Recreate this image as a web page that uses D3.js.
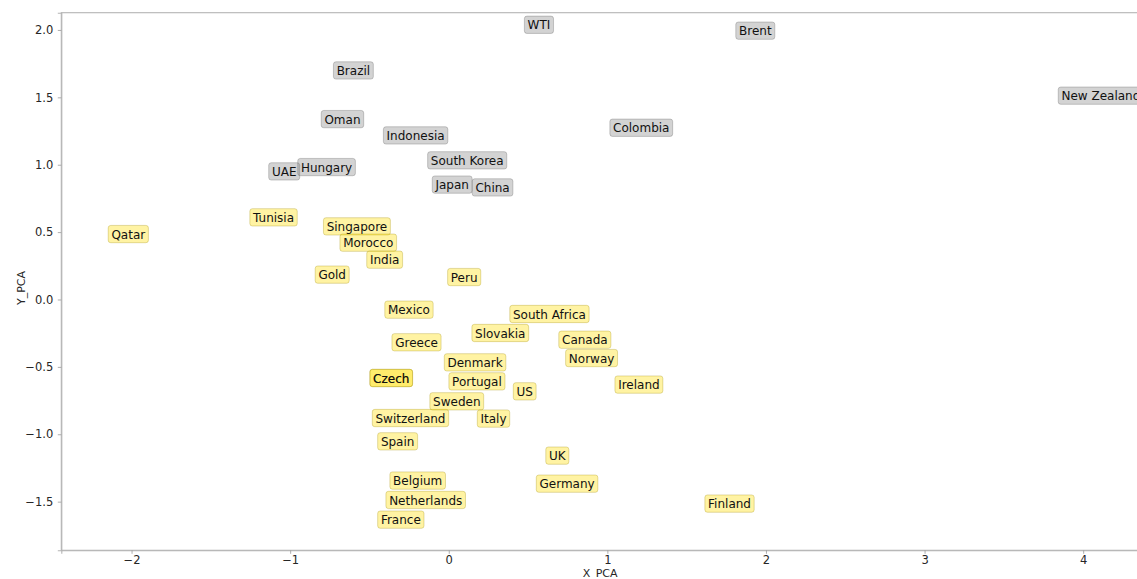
<!DOCTYPE html>
<html>
<head>
<meta charset="utf-8">
<script src="https://cdn.jsdelivr.net/npm/d3@7"></script>
<style>
  html, body { margin: 0; padding: 0; background: #fff; }
  svg { display: block; font-family: "DejaVu Sans", sans-serif; }
</style>
</head>
<body>
<svg id="chart" width="1137" height="579"></svg>
<script>
// Label names with their PCA coordinates (text anchor: left edge, baseline)
const names = [
  "WTI", "Brent", "Brazil", "Oman", "Indonesia", "UAE", "Hungary", "South Korea",
  "Japan", "China", "Colombia", "New Zealand",
  "Qatar", "Tunisia", "Singapore", "Morocco", "India", "Gold", "Peru",
  "Mexico", "Greece", "Czech", "Czech", "Switzerland", "Spain", "Belgium",
  "Netherlands", "France", "South Africa", "Slovakia", "Canada", "Norway",
  "Denmark", "Portugal", "US", "Ireland", "Sweden", "Italy", "UK", "Germany", "Finland"
];
const xPCA = [
  0.497, 1.830, -0.707, -0.784, -0.392, -1.115, -0.932, -0.113,
  -0.084, 0.168, 1.036, 3.863,
  -2.127, -1.234, -0.770, -0.666, -0.497, -0.822, 0.013,
  -0.383, -0.338, -0.477, -0.477, -0.462, -0.428, -0.351,
  -0.376, -0.428, 0.405, 0.166, 0.714, 0.757,
  -0.008, 0.021, 0.427, 1.068, -0.099, 0.200, 0.632, 0.572, 1.635
];
const yPCA = [
  2.004, 1.960, 1.665, 1.304, 1.183, 0.916, 0.948, 0.998,
  0.818, 0.797, 1.240, 1.478,
  0.451, 0.575, 0.508, 0.387, 0.261, 0.150, 0.132,
  -0.110, -0.352, -0.617, -0.617, -0.914, -1.087, -1.378,
  -1.522, -1.668, -0.142, -0.283, -0.333, -0.469,
  -0.501, -0.642, -0.716, -0.666, -0.790, -0.918, -1.193, -1.401, -1.549
];
// Cluster membership: 1 = commodity-linked group (grey), 0 = other (yellow)
const cluster = [
  1, 1, 1, 1, 1, 1, 1, 1, 1, 1, 1, 1,
  0, 0, 0, 0, 0, 0, 0,
  0, 0, 0, 0, 0, 0, 0, 0, 0, 0, 0, 0, 0,
  0, 0, 0, 0, 0, 0, 0, 0, 0
];
const xTicks = [-2, -1, 0, 1, 2, 3, 4];
const yTicks = [-1.5, -1.0, -0.5, 0.0, 0.5, 1.0, 1.5, 2.0];
const xDomain = [-2.443, 4.352];
const yDomain = [-1.861, 2.128];

const svg = d3.select("#chart");
const plot = { left: 61.3, right: 1139, top: 12.7, bottom: 550.3 };

const x = d3.scaleLinear().domain(xDomain).range([plot.left, plot.right]);
const y = d3.scaleLinear().domain(yDomain).range([plot.bottom, plot.top]);

const spineColor = "#b5b5b5";
const tickText = "#262626";

// Frame
svg.append("rect")
  .attr("x", plot.left).attr("y", plot.top)
  .attr("width", plot.right - plot.left).attr("height", plot.bottom - plot.top)
  .attr("fill", "none").attr("stroke", spineColor).attr("stroke-width", 1.1);

// Axes
const xAxis = svg.append("g")
  .attr("transform", `translate(0,${plot.bottom})`)
  .call(d3.axisBottom(x).tickValues(xTicks).tickFormat(d3.format("d"))
        .tickSize(3.5).tickPadding(2.5));
const yAxis = svg.append("g")
  .attr("transform", `translate(${plot.left},0)`)
  .call(d3.axisLeft(y).tickValues(yTicks).tickFormat(d3.format(".1f"))
        .tickSize(3.5).tickPadding(4.5));

[xAxis, yAxis].forEach(g => {
  g.select(".domain").attr("stroke", spineColor).attr("stroke-width", 1.1);
  g.selectAll(".tick line").attr("stroke", "#9a9a9a").attr("stroke-width", 0.8);
  g.selectAll(".tick text")
    .attr("fill", tickText)
    .style("font-family", "DejaVu Sans, sans-serif")
    .style("font-size", "11.5px");
});

// Axis titles
svg.append("text")
  .attr("x", (plot.left + plot.right) / 2).attr("y", 576.5)
  .attr("text-anchor", "middle")
  .attr("fill", tickText).style("font-size", "11px")
  .text("X_PCA");
svg.append("text")
  .attr("transform", "translate(24.5,288) rotate(-90)")
  .attr("text-anchor", "middle")
  .attr("fill", tickText).style("font-size", "11px")
  .text("Y_PCA");

// Labelled points
const data = names.map((n, i) => ({ name: n, x: xPCA[i], y: yPCA[i], c: cluster[i] }));
const fs = 12;
const padX = 3.2;

const labels = svg.append("g").selectAll("g.lbl")
  .data(data).join("g").attr("class", "lbl");

labels.each(function (d) {
  const g = d3.select(this);
  const rect = g.append("rect");
  const t = g.append("text")
    .attr("x", x(d.x)).attr("y", y(d.y))
    .attr("fill", "#111")
    .style("font-size", fs + "px")
    .text(d.name);
  const w = t.node().getComputedTextLength();
  rect.attr("x", x(d.x) - padX)
    .attr("y", y(d.y) - 13.3)
    .attr("width", w + 2 * padX)
    .attr("height", 17.3)
    .attr("rx", 2.5).attr("ry", 2.5)
    .attr("fill", d.c ? "rgba(128,128,128,0.35)" : "rgba(255,224,26,0.40)")
    .attr("stroke", d.c ? "rgba(90,90,90,0.30)" : "rgba(160,140,0,0.30)")
    .attr("stroke-width", 1);
});
</script>
</body>
</html>
